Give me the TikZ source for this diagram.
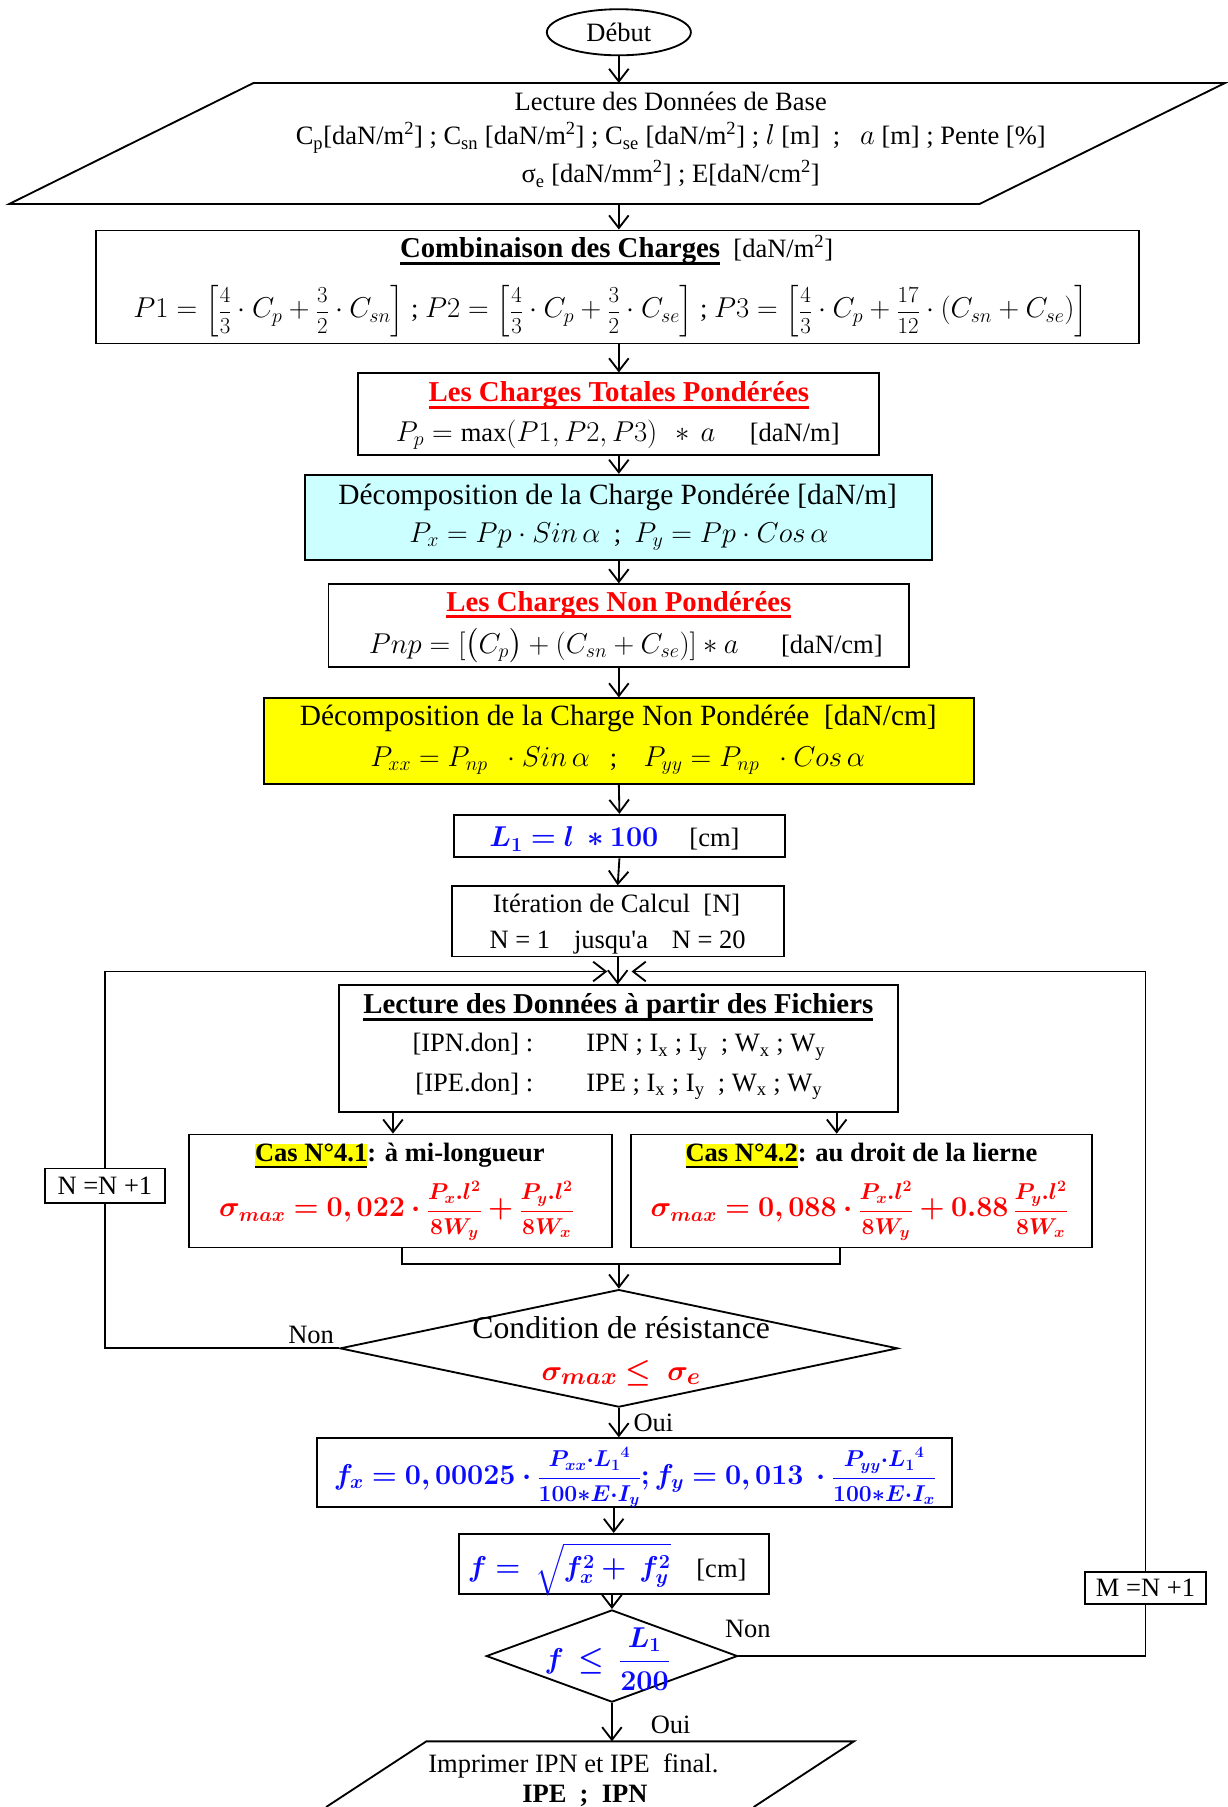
\documentclass[tikz,border=0pt]{standalone}
\usepackage{fontspec}
\setmainfont{Liberation Serif}
\usepackage{amsmath,bm,graphicx}
\usetikzlibrary{arrows.meta,shapes.geometric,calc}
\definecolor{lcyan}{RGB}{204,255,255}
\definecolor{myblue}{RGB}{10,10,255}
\definecolor{myred}{RGB}{255,0,0}
\definecolor{hlyellow}{RGB}{255,255,0}
\newcommand{\thul}[2][2.6pt]{\leavevmode\setbox0=\hbox{#2}\rlap{\raisebox{-5.8pt}{\rule{\wd0}{#1}}}\box0}
\newcommand{\myhl}[1]{{\setlength{\fboxsep}{0pt}\colorbox{hlyellow}{\thul[2.2pt]{#1}}}}
\newcommand{\bfr}[2]{\scalebox{0.8}{$\displaystyle\frac{#1}{#2}$}}
\newcommand{\bbfr}[2]{\scalebox{0.8}{$\displaystyle\bm{\frac{#1}{#2}}$}}
\begin{document}
\begin{tikzpicture}[x=1pt,y=-1pt,
  font=\fontsize{23}{27}\selectfont,
  lw/.style={line width=1.6pt},
  box/.style={draw, line width=1.6pt, inner sep=0pt},
  txt/.style={inner sep=0pt, anchor=mid, yshift=-5.5pt},
  ttl/.style={inner sep=0pt, anchor=mid, yshift=-5.5pt, font=\fontsize{25}{29}\selectfont\bfseries},
  big/.style={font=\fontsize{25.5}{29}\selectfont},
  conn/.style={line width=1.6pt},
  arr/.style={line width=1.6pt, -{Straight Barb[length=11pt,width=17pt]}},
  decision/.style={diamond, draw, line width=1.6pt, inner sep=0pt, aspect=1}
]
\useasboundingbox (0,0) rectangle (1065,1568);

% ---------- Debut
\node[ellipse, box, minimum width=125, minimum height=40] (debut) at (537,28) {Début};

% ---------- Input parallelogram
\draw[lw] (220,72) -- (1063,72) -- (850,177) -- (8,177) -- cycle;
\coordinate (p1top) at (537,72);
\coordinate (p1bot) at (537,177);
\node[txt] (in1) at (582,88) {Lecture des Données de Base};
\node[txt] (in2) at (582,118) {C\textsubscript{p}[daN/m\textsuperscript{2}] ; C\textsubscript{sn} [daN/m\textsuperscript{2}] ; C\textsubscript{se} [daN/m\textsuperscript{2}] ; $l$ [m]\ \ ;\ \ \ $a$ [m] ; Pente [\%]};
\node[txt] (in3) at (582,151) {σ\textsubscript{e} [daN/mm\textsuperscript{2}] ; E[daN/cm\textsuperscript{2}]};

% ---------- Combinaison
\node[box, minimum width=905, minimum height=98] (comb) at (535.5,249) {};
\node[txt] (combt) at (535,216) {\textbf{\fontsize{25}{29}\selectfont\thul[2pt]{Combinaison des Charges}}\ \ [daN/m\textsuperscript{2}]};
\node[txt] (combf) at (530,268) {$P1=\left[\bfr{4}{3}\cdot C_p+\bfr{3}{2}\cdot C_{sn}\right]$ ; $P2=\left[\bfr{4}{3}\cdot C_p+\bfr{3}{2}\cdot C_{se}\right]$ ; $P3=\left[\bfr{4}{3}\cdot C_p+\bfr{17}{12}\cdot (C_{sn}+C_{se})\right]$};

% ---------- Totales ponderees
\node[box, minimum width=452, minimum height=71] (tot) at (537,359.5) {};
\node[ttl, text=myred] (tott) at (537,341) {\thul{Les Charges Totales Pondérées}};
\node[txt] (totf) at (536,375) {$P_p=\max(P1,P2,P3)\ \,*\,a$\hspace{1.3em}[daN/m]};

% ---------- Decomposition ponderee
\node[box, fill=lcyan, minimum width=544, minimum height=74] (cyan) at (537,449) {};
\node[txt, big] (cyant) at (536,430) {Décomposition de la Charge Pondérée [daN/m]};
\node[txt] (cyanf) at (537,463) {$P_x=Pp\cdot Sin\,\alpha$\ \ ;\ \ $P_y=Pp\cdot Cos\,\alpha$};

% ---------- Non ponderees
\node[box, minimum width=504, minimum height=72] (nonp) at (537,543) {};
\node[ttl, text=myred] (nonpt) at (537,523) {\thul{Les Charges Non Pondérées}};
\node[txt] (nonpf) at (543,559) {$Pnp=[\bigl(C_p\bigr)+(C_{sn}+C_{se})]*a$\hspace{1.6em}[daN/cm]};

% ---------- Decomposition non ponderee
\node[box, fill=hlyellow, minimum width=616, minimum height=74] (yel) at (537,643) {};
\node[txt, big] (yelt) at (536.5,622) {Décomposition de la Charge Non Pondérée\ \ [daN/cm]};
\node[txt] (yelf) at (536,657) {$P_{xx}=P_{np}\ \ \cdot Sin\,\alpha$\ \ \ ;\ \ \ \ $P_{yy}=P_{np}\ \ \cdot Cos\,\alpha$};

% ---------- L1
\node[box, minimum width=287, minimum height=37] (lone) at (537.5,725.5) {};
\node[txt, text=myblue] (lonef) at (498,727) {$\bm{L_1=l\ *100}$};
\node[txt] (lonec) at (620,727) {[cm]};

% ---------- Iteration
\node[box, minimum width=288, minimum height=61] (iter) at (536,799.5) {};
\node[txt] (itert) at (535,784) {Itération de Calcul\ \ [N]};
\node[txt] (iterf) at (536,815) {N = 1\hspace{0.9em}jusqu\textquotesingle a\hspace{0.9em}N = 20};

% ---------- Fichiers
\node[box, minimum width=485, minimum height=110] (fich) at (536.5,910) {};
\node[ttl] (ficht) at (536.5,872) {\thul{Lecture des Données à partir des Fichiers}};
\node[txt] (fich1) at (537,905) {[IPN.don] :\hspace{2em}IPN ; I\textsubscript{x} ; I\textsubscript{y}\ \ ; W\textsubscript{x} ; W\textsubscript{y}};
\node[txt] (fich2) at (537,939) {[IPE.don] :\hspace{2em}IPE ; I\textsubscript{x} ; I\textsubscript{y}\ \ ; W\textsubscript{x} ; W\textsubscript{y}};

% ---------- Cas 4.1 / 4.2
\node[box, minimum width=367, minimum height=98] (cas1) at (347.5,1033.5) {};
\node[txt, font=\fontsize{23}{27}\selectfont\bfseries] (cas1t) at (347,1000) {\myhl{Cas N°4.1}: à mi-longueur};
\node[txt, text=myred] (cas1f) at (344,1048) {$\bm{\sigma_{max}=0,022\cdot}\bbfr{P_x.l^2}{8W_y}\bm{+}\bbfr{P_y.l^2}{8W_x}$};
\node[box, minimum width=400, minimum height=98] (cas2) at (747.5,1033.5) {};
\node[txt, font=\fontsize{23}{27}\selectfont\bfseries] (cas2t) at (747.5,1000) {\myhl{Cas N°4.2}: au droit de la lierne};
\node[txt, text=myred] (cas2f) at (745.5,1048) {$\bm{\sigma_{max}=0,088\cdot}\bbfr{P_x.l^2}{8W_y}\bm{+0.88}\,\bbfr{P_y.l^2}{8W_x}$};

% ---------- N = N+1 / M = N+1
\node[box, fill=white, minimum width=104, minimum height=30] (nn) at (91,1029) {N =N +1};
\node[box, fill=white, minimum width=105, minimum height=28] (mm) at (994,1378) {M =N +1};

% ---------- Condition de resistance
\node[decision, minimum width=484, minimum height=102] (cond) at (537,1170) {};
\node[txt, font=\fontsize{27.5}{31}\selectfont] (condt) at (539,1154) {Condition de résistance};
\node[txt, text=myred, font=\fontsize{29}{33}\selectfont] (condf) at (539,1190) {$\bm{\sigma_{max}\le\ \sigma_e}$};

% ---------- Fleches fx fy
\node[box, minimum width=551, minimum height=60] (fxy) at (550.5,1278) {};
\node[txt, text=myblue] (fxyf) at (551,1280) {$\bm{f_x=0,00025\cdot}\bbfr{P_{xx}{\cdot}{L_1}^4}{100{*}E{\cdot}I_y}\bm{;f_y=0,013\ \cdot}\bbfr{P_{yy}{\cdot}{L_1}^4}{100{*}E{\cdot}I_x}$};

% ---------- f
\node[box, minimum width=269, minimum height=52] (ff) at (532.5,1357) {};
\node[txt, text=myblue] (fff) at (494,1360) {$\bm{f=}\ \sqrt{\bm{f_x^2+\ f_y^2}}$};
\node[txt] (ffc) at (626,1361) {[cm]};

% ---------- f <= L1/200
\node[decision, minimum width=218, minimum height=80] (dd) at (531,1437) {};
\node[txt, text=myblue] (ddf) at (527,1440) {$\bm{f\ \le\ \dfrac{L_1}{200}}$};

% ---------- Output parallelogram
\draw[lw] (283,1568) -- (370,1511) -- (741,1511) -- (654,1568);
\coordinate (p2top) at (531,1511);
\node[txt] (out1) at (497.5,1530) {Imprimer IPN et IPE\ \ final.};
\node[txt, font=\fontsize{23}{27}\selectfont\bfseries] (out2) at (507.5,1556) {IPE\ \ ;\ \ IPN};

% ---------- Labels
\node[txt] (non1) at (270,1158) {Non};
\node[txt] (oui1) at (567,1234) {Oui};
\node[txt] (non2) at (649,1413) {Non};
\node[txt] (oui2) at (582,1496) {Oui};

% ---------- helper coordinates
\coordinate (mL) at (527,843);
\coordinate (mR) at (548,843);
\coordinate (ax1) at (341,0);
\coordinate (ax2) at (726,0);
\coordinate (b1) at (349,1097);
\coordinate (b2) at (729,1097);
\coordinate (bj) at (537,1097);

% ---------- Connectors
\draw[arr] (debut.south) -- (p1top);
\draw[arr] (p1bot) -- (p1bot |- comb.north);
\draw[arr] (comb.south -| tot.north) -- (tot.north);
\draw[arr] (tot.south) -- (cyan.north);
\draw[arr] (cyan.south) -- (nonp.north);
\draw[arr] (nonp.south) -- (yel.north);
\draw[arr] (yel.south) -- (lone.north);
\draw[arr] (lone.south) -- (iter.north);
\draw[arr] (iter.south) -- (iter.south |- fich.north);
\draw[arr] (fich.south -| ax1) -- (cas1.north -| ax1);
\draw[arr] (fich.south -| ax2) -- (cas2.north -| ax2);
\draw[conn] (cas1.south -| b1) |- (b2) -- (cas2.south -| b2);
\draw[arr] (bj) -- (cond.north);
\draw[conn] (cond.west) -| (nn.south);
\draw[arr] (nn.north) |- (mL);
\draw[arr] (cond.south) -- (cond.south |- fxy.north);
\draw[arr] (ff.north |- fxy.south) -- (ff.north);
\draw[arr] (dd.north |- ff.south) -- (dd.north);
\draw[conn] (dd.east) -| (mm.south);
\draw[arr] (mm.north) |- (mR);
\draw[arr] (dd.south) -- (p2top);
\end{tikzpicture}
\end{document}
